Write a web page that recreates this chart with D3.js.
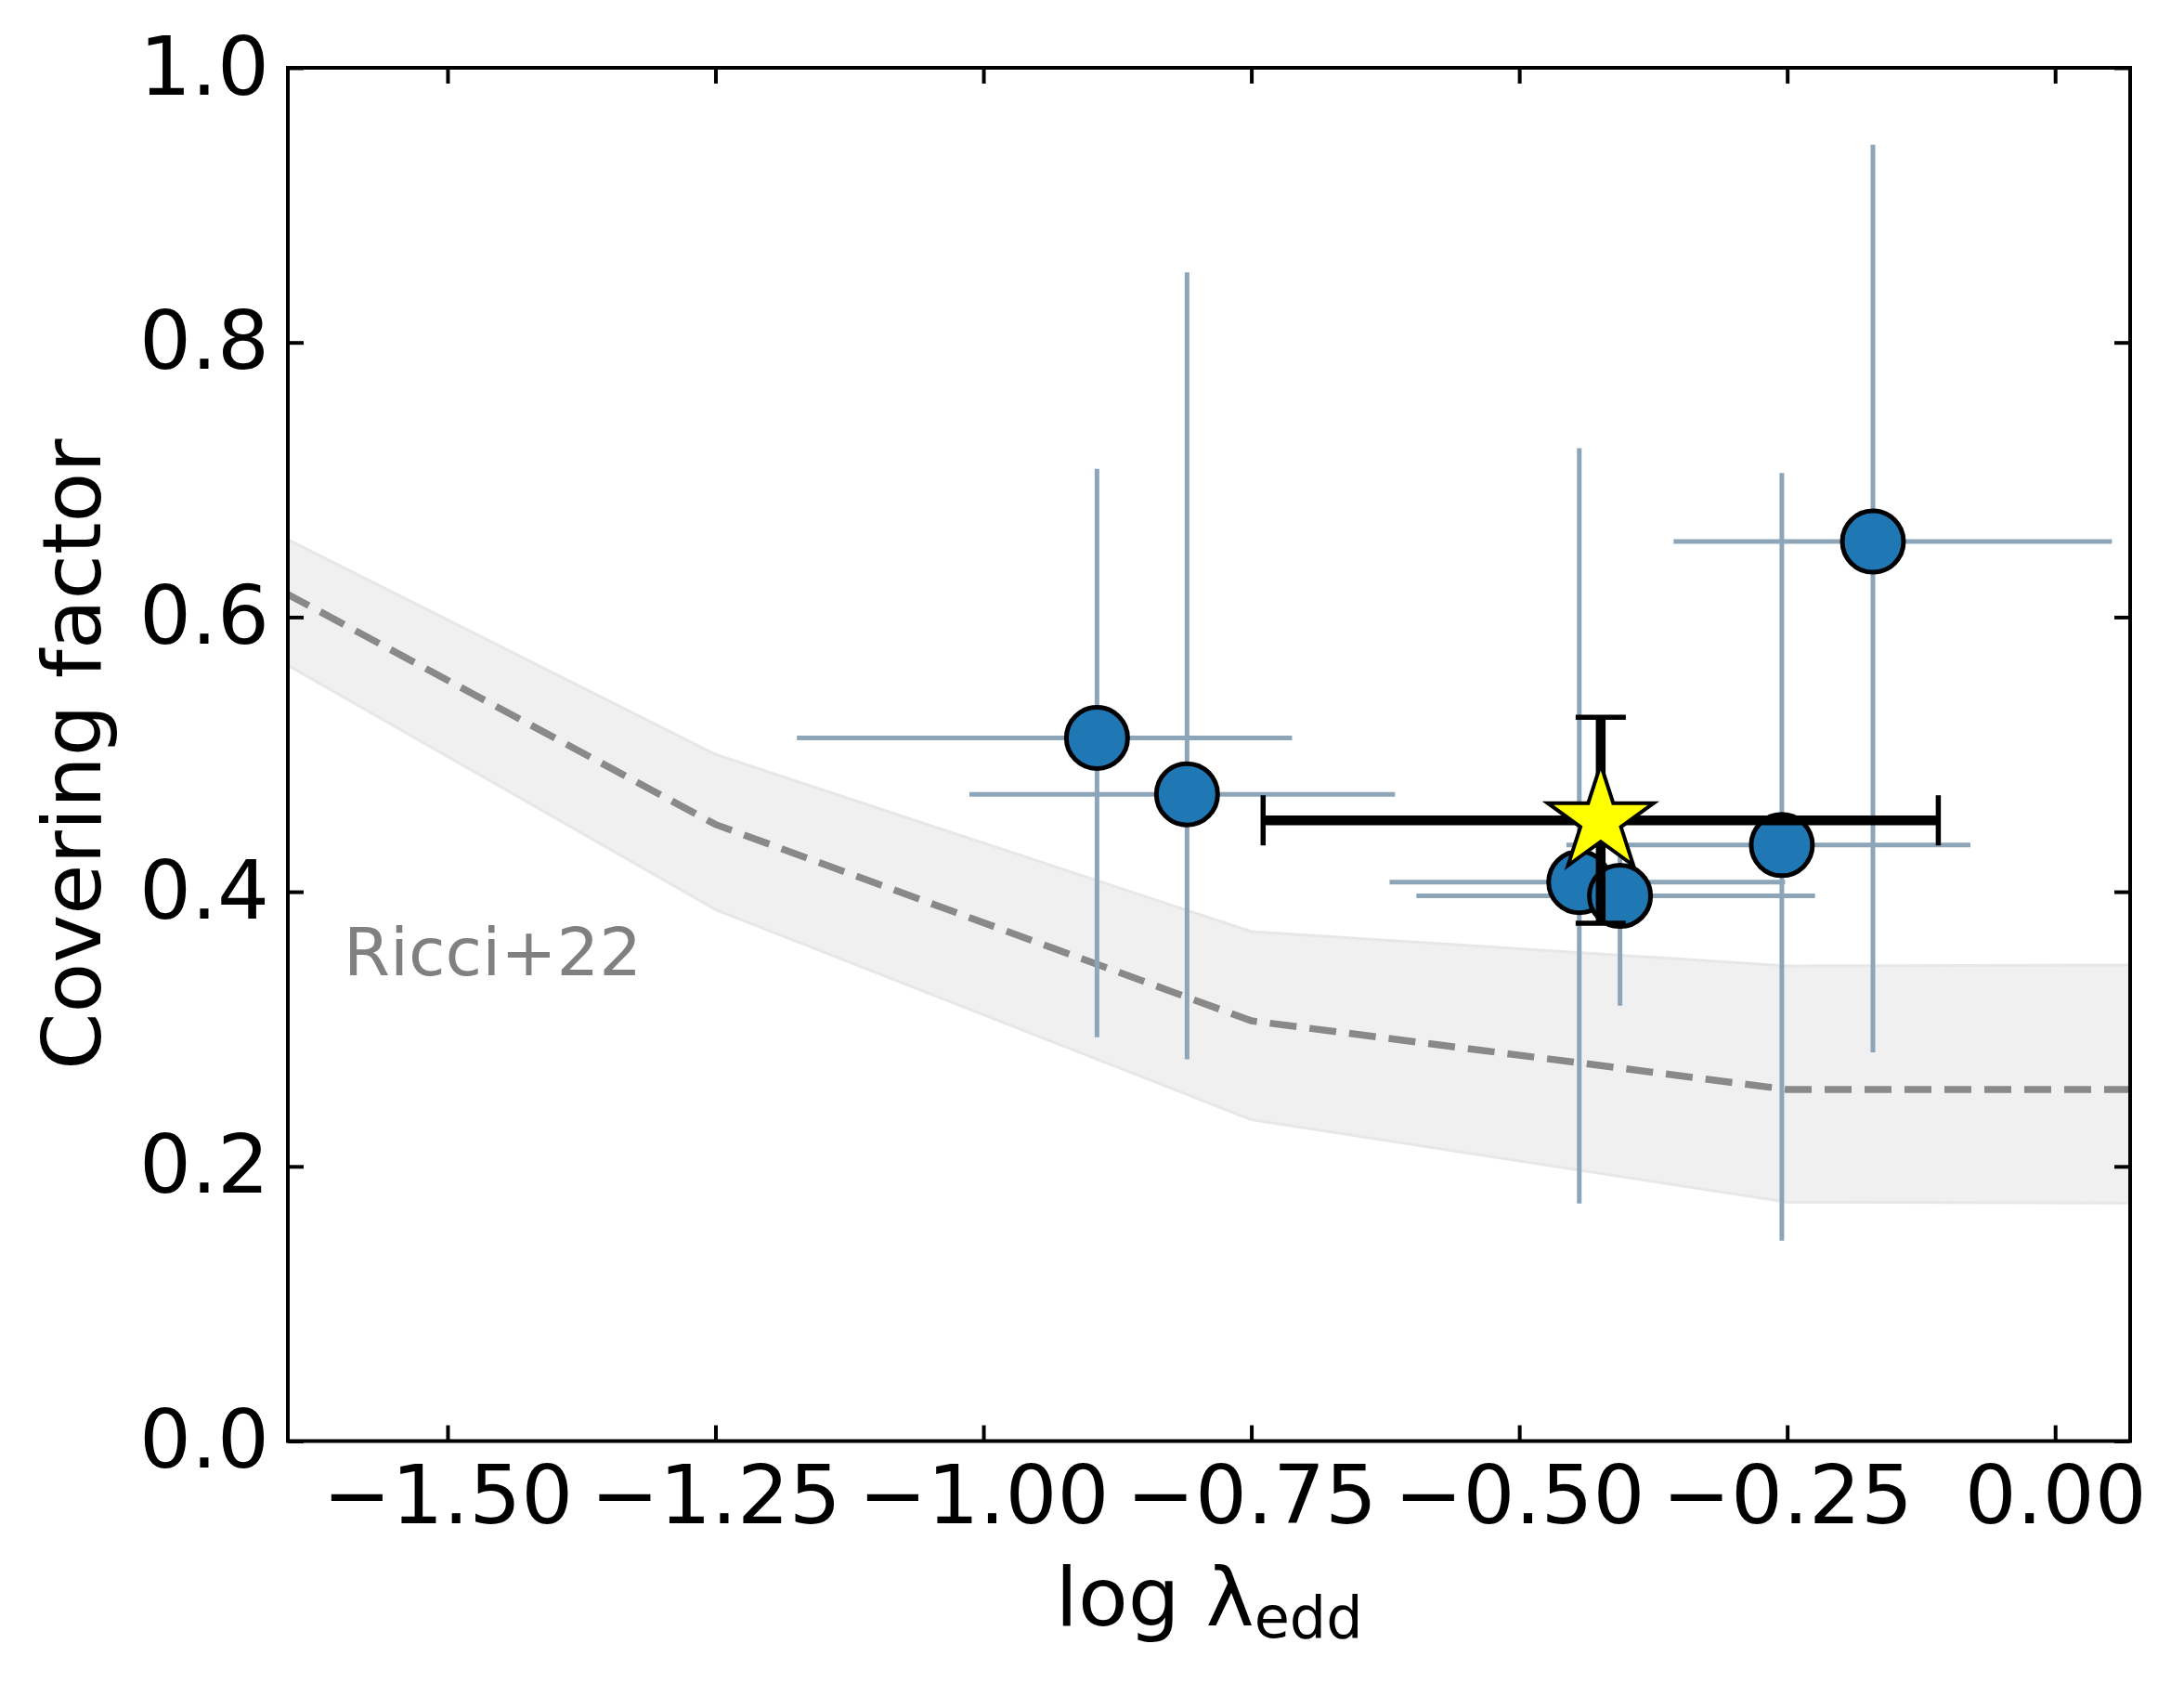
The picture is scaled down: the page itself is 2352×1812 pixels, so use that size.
<!DOCTYPE html>
<html>
<head>
<meta charset="utf-8">
<script src="https://cdn.jsdelivr.net/npm/d3@7"></script>
<style>
  body { margin: 0; background: #fff; }
</style>
</head>
<body>
<div class="viewbox"></div>
<script>
// covering factor vs log eddington ratio, with the Ricci+22 relation behind

const svg_width = 2352;
const svg_height = 1812;

// tick labels
const xTicks = [-1.5, -1.25, -1.0, -0.75, -0.5, -0.25, 0.0];
const yTicks = [0.0, 0.2, 0.4, 0.6, 0.8, 1.0];

// sample (blue circles)
const sampleX = [-0.894, -0.810, -0.444, -0.406, -0.255, -0.170];
const sampleY = [0.512, 0.471, 0.407, 0.397, 0.434, 0.655];
const sampleXErrLo = [0.280, 0.203, 0.177, 0.190, 0.201, 0.186];
const sampleXErrHi = [0.182, 0.194, 0.192, 0.182, 0.176, 0.223];
const sampleYErrLo = [0.218, 0.193, 0.234, 0.080, 0.288, 0.372];
const sampleYErrHi = [0.196, 0.380, 0.316, 0.050, 0.271, 0.289];

// the star source
const starX = [-0.424];
const starY = [0.452];
const starXErr = [0.315];
const starYErr = [0.075];

// Ricci+22 relation (median + band)
const ricciX = [-1.75, -1.25, -0.75, -0.25, 0.25];
const ricciMid = [0.659, 0.449, 0.306, 0.256, 0.256];
const ricciLo = [0.610, 0.387, 0.234, 0.174, 0.173];
const ricciHi = [0.696, 0.500, 0.371, 0.346, 0.347];

// plot box (window.top is taken, hence the p prefix)
const pLeft = 310, pRight = 2294, pTop = 73, pBottom = 1551.5;
const font = "DejaVu Sans";

let svg = d3.select(".viewbox")
  .append("svg")
  .attr("width", svg_width)
  .attr("height", svg_height)

let x = d3.scaleLinear().domain([-1.649, 0.070]).range([pLeft, pRight]);
let y = d3.scaleLinear().domain([0, 1]).range([pBottom, pTop]);

svg.append("clipPath").attr("id", "plotclip")
  .append("rect")
  .attr("x", pLeft).attr("y", pTop)
  .attr("width", pRight - pLeft).attr("height", pBottom - pTop);

let plot = svg.append("g").attr("clip-path", "url(#plotclip)");

// band
let ricci = ricciX.map((d, i) => ({x: d, mid: ricciMid[i], lo: ricciLo[i], hi: ricciHi[i]}));

plot.append("path")
  .datum(ricci)
  .attr("d", d3.area().x(d => x(d.x)).y0(d => y(d.lo)).y1(d => y(d.hi)))
  .attr("fill", "#f0f0f0")
  .attr("stroke", "#e7e7e7")
  .attr("stroke-width", 3);

plot.append("path")
  .datum(ricci)
  .attr("d", d3.line().x(d => x(d.x)).y(d => y(d.mid)))
  .attr("fill", "none")
  .attr("stroke", "#898989")
  .attr("stroke-width", 7.5)
  .attr("stroke-dasharray", "29,14");

// blue points: error bars first, markers on top
let pts = sampleX.map((d, i) => ({
  x: d, y: sampleY[i],
  xlo: sampleXErrLo[i], xhi: sampleXErrHi[i],
  ylo: sampleYErrLo[i], yhi: sampleYErrHi[i]
}));

const errColor = "#8da5b9";

svg.selectAll(".xerr")
  .data(pts)
  .enter()
  .append("line")
  .attr("class", "xerr")
  .attr("x1", d => x(d.x - d.xlo))
  .attr("x2", d => x(d.x + d.xhi))
  .attr("y1", d => y(d.y))
  .attr("y2", d => y(d.y))
  .attr("stroke", errColor)
  .attr("stroke-width", 5);

svg.selectAll(".yerr")
  .data(pts)
  .enter()
  .append("line")
  .attr("class", "yerr")
  .attr("x1", d => x(d.x))
  .attr("x2", d => x(d.x))
  .attr("y1", d => y(d.y - d.ylo))
  .attr("y2", d => y(d.y + d.yhi))
  .attr("stroke", errColor)
  .attr("stroke-width", 5);

svg.selectAll(".pt")
  .data(pts)
  .enter()
  .append("circle")
  .attr("class", "pt")
  .attr("cx", d => x(d.x))
  .attr("cy", d => y(d.y))
  .attr("r", 33)
  .attr("fill", "#1f77b4")
  .attr("stroke", "black")
  .attr("stroke-width", 5);

// star with black error bars + caps
let star = starX.map((d, i) => ({x: d, y: starY[i], xe: starXErr[i], ye: starYErr[i]}));
const cap = 27;

star.forEach(d => {
  let g = svg.append("g").attr("stroke", "black");
  g.append("line")
    .attr("x1", x(d.x - d.xe)).attr("x2", x(d.x + d.xe))
    .attr("y1", y(d.y)).attr("y2", y(d.y))
    .attr("stroke-width", 10.5);
  g.append("line")
    .attr("x1", x(d.x)).attr("x2", x(d.x))
    .attr("y1", y(d.y - d.ye)).attr("y2", y(d.y + d.ye))
    .attr("stroke-width", 10.5);
  // caps
  [d.x - d.xe, d.x + d.xe].forEach(v => {
    g.append("line")
      .attr("x1", x(v)).attr("x2", x(v))
      .attr("y1", y(d.y) - cap).attr("y2", y(d.y) + cap)
      .attr("stroke-width", 5.5);
  });
  [d.y - d.ye, d.y + d.ye].forEach(v => {
    g.append("line")
      .attr("x1", x(d.x) - cap).attr("x2", x(d.x) + cap)
      .attr("y1", y(v)).attr("y2", y(v))
      .attr("stroke-width", 5.5);
  });
});

// five point star path
function starPath(cx, cy, R) {
  let r = R * 0.381966;
  let p = [];
  for (let k = 0; k < 10; k++) {
    let a = Math.PI * k / 5;
    let rr = k % 2 === 0 ? R : r;
    p.push([cx + rr * Math.sin(a), cy - rr * Math.cos(a)]);
  }
  return "M" + p.map(q => q.join(",")).join("L") + "Z";
}

svg.selectAll(".star")
  .data(star)
  .enter()
  .append("path")
  .attr("class", "star")
  .attr("d", d => starPath(x(d.x), y(d.y), 60))
  .attr("fill", "#ffff00")
  .attr("stroke", "black")
  .attr("stroke-width", 4)
  .attr("stroke-linejoin", "miter");

// axes, ticks pointing inward on all four sides
function styleAxis(g) {
  g.select(".domain").remove();
  g.attr("font-family", font).attr("font-size", 88);
  g.selectAll(".tick line").attr("stroke", "black").attr("stroke-width", 4);
  g.selectAll(".tick text").attr("fill", "black");
}

svg.append("g")
  .attr("transform", `translate(0,${pBottom})`)
  .call(d3.axisBottom(x).tickValues(xTicks).tickFormat(d3.format(".2f")).tickSize(-17).tickPadding(26))
  .call(styleAxis);

svg.append("g")
  .attr("transform", `translate(0,${pTop})`)
  .call(d3.axisTop(x).tickValues(xTicks).tickFormat("").tickSize(-17))
  .call(styleAxis);

svg.append("g")
  .attr("transform", `translate(${pLeft},0)`)
  .call(d3.axisLeft(y).tickValues(yTicks).tickFormat(d3.format(".1f")).tickSize(-17).tickPadding(20))
  .call(styleAxis);

svg.append("g")
  .attr("transform", `translate(${pRight},0)`)
  .call(d3.axisRight(y).tickValues(yTicks).tickFormat("").tickSize(-17))
  .call(styleAxis);

// frame
svg.append("rect")
  .attr("x", pLeft).attr("y", pTop)
  .attr("width", pRight - pLeft).attr("height", pBottom - pTop)
  .attr("fill", "none")
  .attr("stroke", "black")
  .attr("stroke-width", 4);

// labels
svg.append("text")
  .attr("x", 370).attr("y", 1050)
  .attr("font-family", font).attr("font-size", 72)
  .attr("fill", "#808080")
  .text("Ricci+22");

let xl = svg.append("text")
  .attr("x", (pLeft + pRight) / 2).attr("y", 1750)
  .attr("text-anchor", "middle")
  .attr("font-family", font).attr("font-size", 88)
  .text("log λ");
xl.append("tspan")
  .attr("font-size", 62)
  .attr("dy", 13)
  .text("edd");

svg.append("text")
  .attr("transform", `translate(108,${(pTop + pBottom) / 2}) rotate(-90)`)
  .attr("text-anchor", "middle")
  .attr("font-family", font).attr("font-size", 88)
  .text("Covering factor");
</script>
</body>
</html>
